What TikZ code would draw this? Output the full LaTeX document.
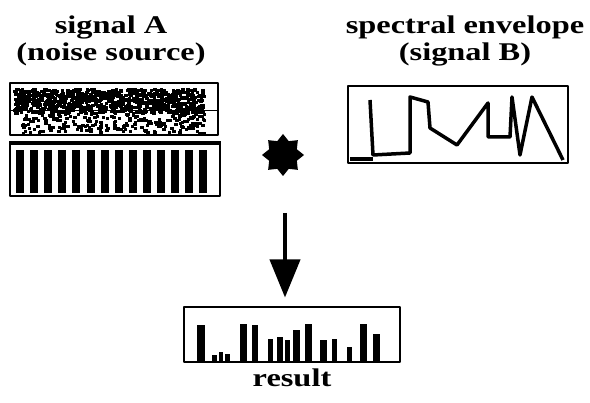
\documentclass[tikz,border=0pt]{standalone}
\usepackage{fontspec}
\setmainfont{Liberation Serif}[FakeStretch=1.27]
\usetikzlibrary{shapes.geometric,arrows.meta,positioning}
\begin{document}
\begin{tikzpicture}[x=1pt,y=-1pt,line join=round,>={Triangle[length=38pt,width=30pt]}]
	\tikzset{title/.style={font=\fontsize{25.5}{27}\selectfont\bfseries,align=center,inner sep=0pt},
		frame/.style={draw,line width=2pt,inner sep=0pt}}
	\useasboundingbox (0,0) rectangle (590,403);
	% titles
	\node[title] (titleA) at (111,41) {signal A\\(noise source)};
	\node[title] (titleB) at (465,41) {spectral envelope\\(signal B)};
	% signal A: noise
	\node[frame,minimum width=208pt,minimum height=52pt] (noise) at (114,109) {};
	\draw[line width=.8pt] (noise.west |- 0,110) -- (noise.east |- 0,110);
	\pgfmathsetseed{11}
	\foreach \i in {1,...,900}{
		\pgfmathsetmacro\nx{13+rnd*190}
		\pgfmathsetmacro\ny{88+rnd*24}
		\fill (\nx,\ny) rectangle ++(3.5,3);
	}
	\foreach \i in {1,...,230}{
		\pgfmathsetmacro\nx{20+rnd*184}
		\pgfmathsetmacro\ny{112+rnd*20}
		\fill (\nx,\ny) rectangle ++(3.5,3);
	}
	% signal A: pulses
	\node[frame,minimum width=210pt,minimum height=52pt] (pulses) at (115,170) {};
	\draw[line width=4pt] (pulses.north west) -- (pulses.north east);
	\foreach \i in {0,...,13}
		\fill (16+\i*14.1,150) rectangle ++(8,43);
	% convolution
	\node[star,star points=8,star point ratio=1.4,fill,minimum size=42pt,inner sep=0pt] (conv) at (283,155) {};
	% signal B
	\node[frame,minimum width=220pt,minimum height=77pt] (env) at (458,124.5) {};
	\draw[line width=3.5pt] (350,159) -- (373,159);
	\draw[line width=3.5pt] (370,100) -- (373,155) -- (410,153) -- (410,97) -- (428,102) -- (430,128)
		-- (457,145) -- (488,103) -- (488,137) -- (510,137) -- (512,97) -- (520,155) -- (532,97) -- (563,160);
	% result
	\node[frame,minimum width=216pt,minimum height=55pt] (result) at (292,335) {};
	\foreach \bx/\bw/\bh in {197/8/37,212/5/7,219/4/10,225/5/8,240/7/38,252/6/37,268/5/23,277/6/25,
		285/5/22,293/7/32,305/7/38,320/7/22,332/5/23,347/5/15,360/7/38,373/7/28}
		\fill (\bx,362) rectangle ++(\bw,-\bh);
	\node[title,below=5pt of result] (resultlabel) {result};
	\coordinate (arrowtop) at (285,213);
	\draw[->,line width=4pt,shorten >=9pt] (arrowtop) -- (arrowtop |- result.north);
\end{tikzpicture}
\end{document}
